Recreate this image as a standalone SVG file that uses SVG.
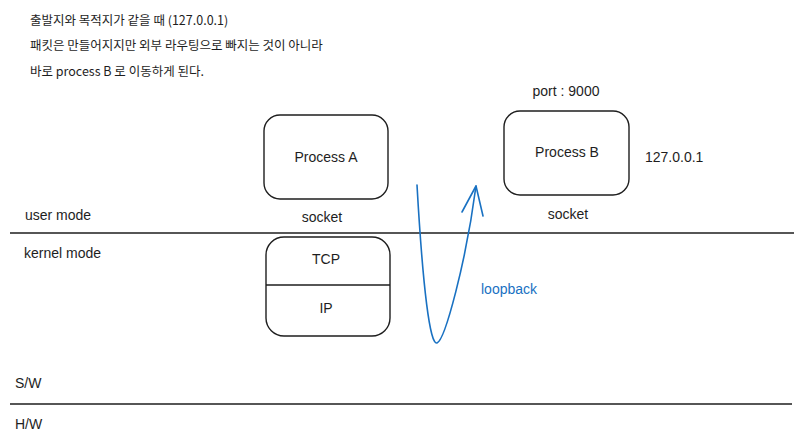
<svg xmlns="http://www.w3.org/2000/svg" width="799" height="447" viewBox="0 0 799 447">
<style>
.t{font-family:"Liberation Sans","Noto Sans CJK KR",sans-serif;font-size:14px;fill:#1e1e1e}
.k{font-family:"Noto Sans CJK KR","Liberation Sans",sans-serif;font-size:12.5px;fill:#1e1e1e}
.box{fill:none;stroke:#1e1e1e;stroke-width:1.4}
.ln{stroke:#1e1e1e;stroke-width:1.4;fill:none}
.blue{stroke:#1971c2;stroke-width:1.6;fill:none;stroke-linecap:round;stroke-linejoin:round}
</style>
<rect width="799" height="447" fill="#ffffff"/>
<g id="note">
<text class="k" x="30" y="25">출발지와 목적지가 같을 때 (127.0.0.1)</text>
<text class="k" x="30" y="50">패킷은 만들어지지만 외부 라우팅으로 빠지는 것이 아니라</text>
<text class="k" x="30" y="76">바로 process B 로 이동하게 된다.</text>
</g>
<g id="layers">
<line class="ln" x1="10" y1="233" x2="794" y2="233"/>
<line class="ln" x1="10" y1="404" x2="792" y2="404"/>
<text class="t" x="25" y="220">user mode</text>
<text class="t" x="24" y="258">kernel mode</text>
<text class="t" x="15" y="388">S/W</text>
<text class="t" x="15" y="429">H/W</text>
</g>
<g id="processA">
<rect class="box" x="264" y="115" width="124" height="84" rx="16"/>
<text class="t" x="326" y="162" text-anchor="middle">Process A</text>
<text class="t" x="322" y="222" text-anchor="middle">socket</text>
</g>
<g id="processB">
<rect class="box" x="504" y="111" width="125" height="84" rx="16"/>
<text class="t" x="567" y="157" text-anchor="middle">Process B</text>
<text class="t" x="568" y="219" text-anchor="middle">socket</text>
<text class="t" x="566" y="96" text-anchor="middle">port : 9000</text>
<text class="t" x="645" y="162">127.0.0.1</text>
</g>
<g id="stack">
<rect class="box" x="266" y="237" width="124" height="99" rx="18"/>
<line class="ln" x1="266" y1="285" x2="390" y2="285"/>
<text class="t" x="326" y="264" text-anchor="middle">TCP</text>
<text class="t" x="326" y="313" text-anchor="middle">IP</text>
</g>
<g id="connectors">
<path class="blue" d="M417 185 C 423 290, 430 345, 437 343 C 445 340, 466 262, 476 186"/>
<path class="blue" d="M462 212 L476 186 L483 216"/>
<text x="481" y="294" style="font-family:'Liberation Sans',sans-serif;font-size:14px;fill:#1971c2">loopback</text>
</g>
</svg>
